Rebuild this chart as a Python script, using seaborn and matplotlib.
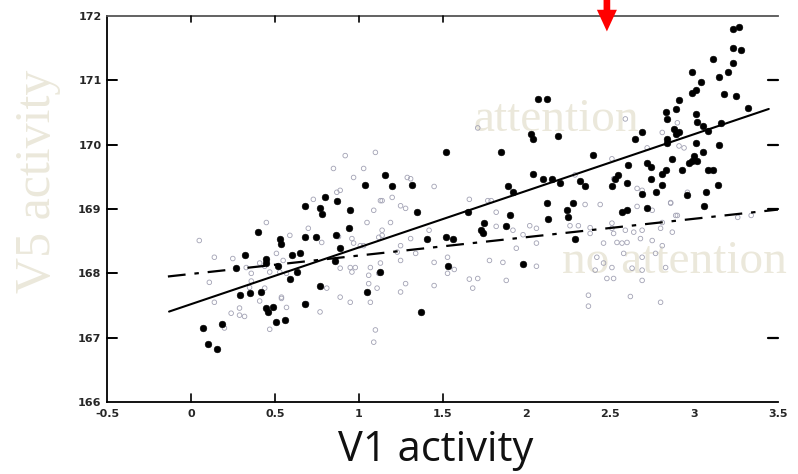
import matplotlib
matplotlib.use("Agg")
import matplotlib.pyplot as plt
import numpy as np
import pandas as pd
import seaborn as sns

# V1 / V5 activity samples, attended condition
att_x = [0.07, 0.10, 0.155, 0.185, 0.27, 0.29, 0.32, 0.35, 0.40, 0.42, 0.45, 0.46,
         0.45, 0.45, 0.49, 0.51, 0.52, 0.53, 0.54, 0.56, 0.59, 0.60, 0.63, 0.65,
         0.68, 0.68, 0.68, 0.745, 0.77, 0.77, 0.78, 0.80, 0.86, 0.865, 0.87, 0.89,
         0.94, 0.95, 1.04, 1.05, 1.13, 1.16, 1.20, 1.32, 1.35, 1.37, 1.41, 1.52,
         1.52, 1.53, 1.56, 1.65, 1.73, 1.74, 1.75, 1.85, 1.88, 1.89, 1.90, 1.92,
         1.98, 2.03, 2.04, 2.07, 2.12, 2.04, 2.10, 2.15, 2.19, 2.20, 2.12, 2.13,
         2.24, 2.25, 2.28, 2.29, 2.32, 2.35, 2.40, 2.51, 2.53, 2.545, 2.57, 2.60,
         2.60, 2.605, 2.65, 2.69, 2.69, 2.72, 2.72, 2.74, 2.745, 2.77, 2.81, 2.81,
         2.83, 2.83, 2.84, 2.84, 2.84, 2.87, 2.88, 2.89, 2.89, 2.91, 2.91, 2.93,
         2.96, 2.97, 2.99, 2.99, 2.99, 3.00, 3.01, 3.01, 3.01, 3.02, 3.02, 3.04,
         3.05, 3.05, 3.06, 3.07, 3.08, 3.08, 3.11, 3.11, 3.14, 3.15, 3.15, 3.16,
         3.18, 3.20, 3.23, 3.23, 3.23, 3.25, 3.27, 3.28, 3.32]
att_y = [167.15, 166.90, 166.82, 167.22, 168.08, 167.66, 168.29, 167.69, 168.65, 167.71, 167.46, 167.40,
         168.23, 168.16, 167.47, 167.24, 168.12, 168.53, 168.46, 167.27, 167.91, 168.29, 168.02, 168.31,
         168.57, 169.05, 167.52, 168.57, 169.02, 167.81, 168.93, 169.19, 168.19, 168.59, 169.13, 168.39,
         168.70, 168.98, 169.38, 167.71, 168.02, 169.53, 169.35, 169.38, 168.95, 167.40, 168.53, 169.89,
         168.57, 168.11, 168.53, 168.96, 168.68, 168.62, 168.79, 169.89, 168.73, 169.35, 168.90, 169.27,
         168.14, 170.17, 170.09, 170.71, 170.71, 169.55, 169.47, 169.46, 170.14, 169.40, 169.09, 168.85,
         168.99, 168.87, 169.09, 168.54, 169.43, 169.36, 169.84, 169.35, 169.47, 169.53, 168.96, 168.98,
         169.41, 169.69, 170.09, 170.20, 169.24, 169.72, 169.01, 169.66, 169.47, 169.26, 169.38, 169.55,
         169.61, 170.50, 170.40, 170.03, 170.09, 169.78, 170.25, 170.56, 170.17, 170.19, 170.70, 169.61,
         169.21, 169.71, 171.13, 170.81, 169.74, 169.83, 170.85, 170.48, 170.02, 170.36, 169.75, 170.98,
         170.29, 169.89, 169.05, 169.26, 170.22, 169.60, 169.61, 171.33, 169.38, 171.05, 170.00, 170.33,
         170.78, 171.13, 171.80, 171.50, 171.27, 170.76, 171.83, 171.47, 170.57]

# V1 / V5 activity samples, unattended condition
noatt_x = [0.05, 0.14, 0.25, 0.11, 0.14, 0.33, 0.36, 0.36, 0.41, 0.44, 0.47, 0.35,
           0.44, 0.51, 0.55, 0.53, 0.57, 0.54, 0.57, 0.41, 0.29, 0.24, 0.29, 0.32,
           0.20, 0.47, 0.69, 0.77, 0.81, 0.89, 0.89, 0.78, 0.45, 0.59, 0.70, 0.88,
           0.73, 0.87, 0.85, 0.92, 1.10, 0.97, 1.13, 1.09, 1.05, 0.96, 1.01, 1.14,
           1.23, 0.98, 1.07, 1.13, 1.06, 1.12, 0.96, 1.06, 1.11, 1.07, 0.95, 1.10,
           1.09, 0.54, 0.68, 1.03, 1.31, 1.45, 0.89, 1.14, 1.20, 1.25, 1.28, 1.19,
           1.66, 1.79, 1.82, 1.82, 1.92, 1.98, 2.02, 2.06, 1.42, 1.71, 1.14, 0.97,
           1.03, 1.12, 1.25, 1.25, 1.31, 1.34, 0.95, 1.25, 1.28, 1.45, 1.45, 1.53,
           1.57, 1.53, 1.66, 1.71, 1.68, 1.78, 1.86, 1.88, 1.94, 2.06, 2.06, 1.29,
           1.77, 2.35, 2.44, 2.66, 2.75, 2.86, 2.89, 2.51, 2.51, 2.38, 2.38, 2.31,
           2.26, 2.52, 2.59, 2.64, 2.69, 2.80, 2.81, 2.87, 2.46, 2.54, 2.57, 2.60,
           2.68, 2.75, 2.81, 2.58, 2.42, 2.46, 2.51, 2.41, 2.69, 2.77, 2.63, 2.69,
           2.83, 2.48, 2.52, 2.69, 2.37, 2.37, 2.62, 2.80, 2.90, 3.26, 3.34, 2.81,
           2.90, 2.91, 2.94, 2.66, 2.69, 2.52, 2.51, 2.96, 2.86, 2.59, 2.29, 2.72]
noatt_y = [168.51, 168.25, 168.23, 167.86, 167.55, 168.09, 168.00, 167.88, 168.16, 168.11, 168.02, 167.78,
           167.77, 168.31, 168.20, 168.02, 168.00, 167.61, 167.47, 167.57, 167.46, 167.38, 167.35, 167.33,
           167.15, 167.13, 167.53, 167.40, 167.77, 167.63, 168.08, 168.48, 168.79, 168.59, 168.70, 168.57,
           169.15, 169.26, 169.63, 169.83, 169.88, 169.49, 169.13, 168.98, 168.79, 168.54, 168.43, 168.59,
           168.33, 168.09, 168.09, 168.16, 167.97, 168.00, 168.02, 167.84, 167.77, 167.55, 167.55, 167.12,
           166.93, 167.63, 167.53, 169.63, 169.47, 169.35, 169.29, 169.13, 169.18, 169.05, 169.01, 168.79,
           169.15, 169.13, 168.95, 168.73, 168.67, 168.60, 168.74, 168.70, 168.67, 170.26, 168.67, 168.47,
           168.43, 168.56, 168.43, 168.20, 168.54, 168.31, 168.09, 167.71, 167.84, 168.17, 167.81, 168.25,
           168.06, 168.00, 167.91, 167.92, 167.77, 168.20, 168.17, 167.89, 168.39, 168.47, 168.11, 169.49,
           169.13, 169.07, 169.07, 169.04, 168.98, 169.09, 168.90, 168.78, 168.70, 168.71, 168.62, 168.74,
           168.74, 168.62, 168.67, 168.64, 168.67, 168.70, 168.79, 168.64, 168.47, 168.48, 168.47, 168.48,
           168.54, 168.51, 168.43, 168.31, 168.25, 168.16, 168.09, 168.05, 168.25, 168.31, 168.08, 168.05,
           168.09, 167.92, 167.92, 167.89, 167.66, 167.49, 167.64, 167.55, 168.90, 168.87, 168.90, 170.19,
           170.34, 169.98, 169.95, 169.32, 169.29, 169.47, 169.78, 169.26, 169.10, 170.40, 169.53, 169.95]

# Fitted lines: (x_start, x_end, slope, intercept)
fit_att = (-0.13, 3.445, 0.881, 167.52)
fit_noatt = (-0.137, 3.50, 0.286, 167.99)

x_ticks = [-0.5, 0, 0.5, 1, 1.5, 2, 2.5, 3, 3.5]
y_ticks = [166, 167, 168, 169, 170, 171, 172]

sns.set_style("ticks")

fig = plt.figure(figsize=(7.98, 4.74), dpi=100)
ax = fig.add_axes([107 / 798, 1 - 402 / 474, (778 - 107) / 798, (402 - 16) / 474])

df_noatt = pd.DataFrame({"V1": noatt_x, "V5": noatt_y})
df_att = pd.DataFrame({"V1": att_x, "V5": att_y})

sns.scatterplot(data=df_noatt, x="V1", y="V5", ax=ax, marker="o", s=11,
                facecolor="none", edgecolor="#a2a2b4", linewidth=0.6, zorder=2)
sns.scatterplot(data=df_att, x="V1", y="V5", ax=ax, marker="o", s=23,
                color="black", edgecolor="black", linewidth=0.4, zorder=3)

def fit_frame(fit):
    x0, x1, slope, icpt = fit
    xs = np.array([x0, x1])
    return pd.DataFrame({"V1": xs, "V5": icpt + slope * xs})

sns.lineplot(data=fit_frame(fit_att), x="V1", y="V5", ax=ax, color="black",
             linewidth=1.5, zorder=4)
sns.lineplot(data=fit_frame(fit_noatt), x="V1", y="V5", ax=ax, color="black",
             linewidth=1.6, linestyle=(0, (8, 4, 2, 4)), zorder=4)

ax.set_xlim(-0.5, 3.5)
ax.set_ylim(166, 172)
ax.set_xticks(x_ticks)
ax.set_yticks(y_ticks)
ax.set_xticklabels([f"{v:g}" for v in x_ticks], fontsize=8, fontweight="bold")
ax.set_yticklabels([str(v) for v in y_ticks], fontsize=8, fontweight="bold")
ax.tick_params(axis="x", direction="in", length=0, pad=5)
ax.tick_params(axis="y", direction="in", length=0, pad=4)
ax.set_xlabel("")
ax.set_ylabel("")

# inward tick marks
for xv in [0, 0.5, 1, 1.5]:
    ax.plot([xv, xv], [166, 166.12], color="black", lw=1.2, zorder=5, clip_on=False)
    ax.plot([xv, xv], [172, 171.9], color="black", lw=1.2, zorder=5, clip_on=False)
for yv in [167, 168, 169, 170, 171]:
    ax.plot([-0.5, -0.44], [yv, yv], color="black", lw=1.4, zorder=5, clip_on=False)
for yv in [167, 169, 170, 171]:
    ax.plot([3.5, 3.44], [yv, yv], color="black", lw=1.6, zorder=5, clip_on=False)

for side in ["left", "bottom"]:
    ax.spines[side].set_color("black")
    ax.spines[side].set_linewidth(1.3)
ax.spines["top"].set_color("#555555")
ax.spines["top"].set_linewidth(1.3)
ax.spines["right"].set_visible(False)

beige = "#ebe8db"
ax.text(2.18, 170.22, "attention", family="Liberation Serif", fontsize=34,
        color=beige, ha="center", va="baseline", zorder=1)
ax.text(2.885, 168.0, "no attention", family="Liberation Serif", fontsize=34,
        color=beige, ha="center", va="baseline", zorder=1)
fig.text(38 / 798, 1 - 181 / 474, "V5 activity", family="Liberation Serif",
         fontsize=36, color=beige, rotation=90, ha="center", va="center")
fig.text(436 / 798, 1 - 450 / 474, "V1 activity", family="Open Sans",
         fontsize=30, color="#111111", ha="center", va="center")

# marker arrow above the plot
ax.annotate("", xy=(2.48, 171.76), xytext=(2.48, 172.26),
            arrowprops=dict(arrowstyle="simple,head_width=1.2,head_length=1.3,tail_width=0.4",
                            color="#ff0000", lw=0, mutation_scale=12,
                            shrinkA=0, shrinkB=0),
            annotation_clip=False, zorder=7)

fig.savefig("out.png", dpi=100, facecolor="white")
